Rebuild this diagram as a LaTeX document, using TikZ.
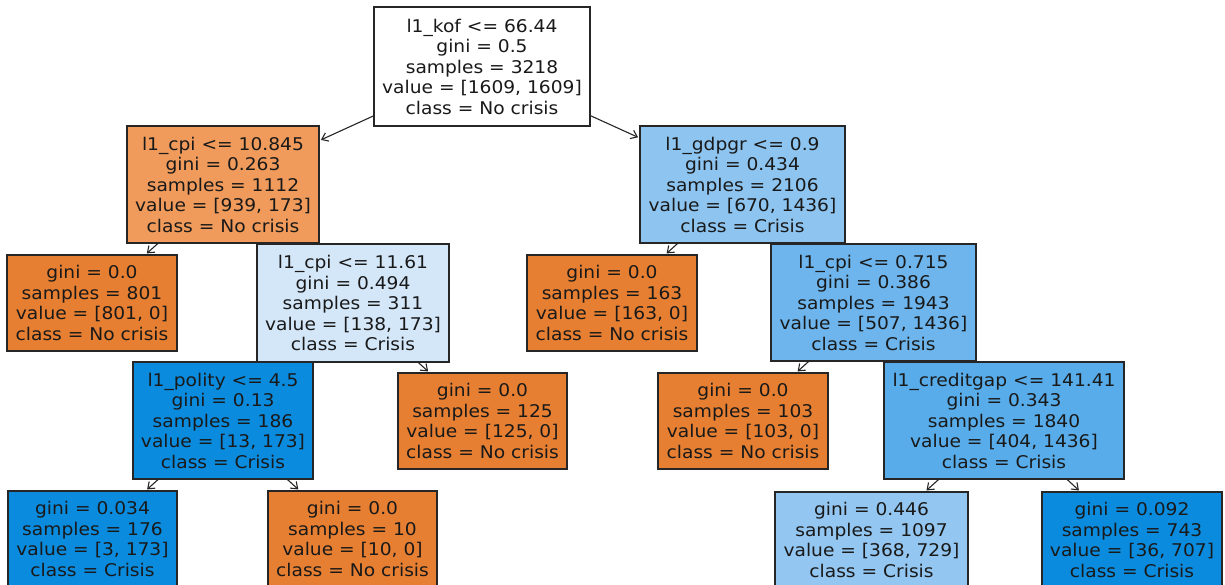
\documentclass[tikz,border=0pt]{standalone}
\usepackage{fontspec}
\setmainfont{DejaVu Sans}[FakeStretch=1.065]
\usetikzlibrary{arrows.meta}

% node fill colours (class proportion shading)
\definecolor{cOrange}{HTML}{E67F32}
\definecolor{cOrangeL}{HTML}{F09B5B}
\definecolor{cBlueD}{HTML}{0A8BDE}
\definecolor{cBlueN6}{HTML}{57ACE9}
\definecolor{cBlueN5}{HTML}{6DB5EC}
\definecolor{cBlueN2}{HTML}{8DC4F0}
\definecolor{cBlueL7}{HTML}{93C6F0}
\definecolor{cBlueN3}{HTML}{D4E7F9}

\tikzset{
  treenode/.style={draw=black!85, line width=1.1pt, inner sep=0pt, align=center,
    font=\fontsize{17.5}{20.5}\selectfont, text=black!90},
  edge/.style={draw=black!85, line width=1.1pt, shorten >=1.5pt,
    -{Straight Barb[length=6pt,width=9pt,line width=1.1pt]}},
  joint/.style={draw=black!85, line width=0.9pt}
}

\begin{document}
\begin{tikzpicture}[x=1pt,y=-1pt]
\useasboundingbox (0,0) rectangle (1225,585);

% internal split nodes
\node[treenode, fill=white, minimum width=216pt, minimum height=119pt] (root) at (482,66.5)
  {l1\_kof <= 66.44\\gini = 0.5\\samples = 3218\\value = [1609, 1609]\\class = No crisis};
\node[treenode, fill=cOrangeL, minimum width=192pt, minimum height=117pt] (n1) at (223,184.5)
  {l1\_cpi <= 10.845\\gini = 0.263\\samples = 1112\\value = [939, 173]\\class = No crisis};
\node[treenode, fill=cBlueN2, minimum width=205pt, minimum height=117pt] (n2) at (742.5,184.5)
  {l1\_gdpgr <= 0.9\\gini = 0.434\\samples = 2106\\value = [670, 1436]\\class = Crisis};
\node[treenode, fill=cBlueN3, minimum width=192pt, minimum height=118pt] (n3) at (353,303)
  {l1\_cpi <= 11.61\\gini = 0.494\\samples = 311\\value = [138, 173]\\class = Crisis};
\node[treenode, fill=cBlueN5, minimum width=205pt, minimum height=117pt] (n5) at (873.5,302.5)
  {l1\_cpi <= 0.715\\gini = 0.386\\samples = 1943\\value = [507, 1436]\\class = Crisis};
\node[treenode, fill=cBlueD, minimum width=180pt, minimum height=117pt] (n4) at (223,420.5)
  {l1\_polity <= 4.5\\gini = 0.13\\samples = 186\\value = [13, 173]\\class = Crisis};
\node[treenode, fill=cBlueN6, minimum width=240pt, minimum height=117pt] (n6) at (1004,420.5)
  {l1\_creditgap <= 141.41\\gini = 0.343\\samples = 1840\\value = [404, 1436]\\class = Crisis};

% leaves
\node[treenode, fill=cOrange, minimum width=170pt, minimum height=96pt] (l1) at (92,303)
  {gini = 0.0\\samples = 801\\value = [801, 0]\\class = No crisis};
\node[treenode, fill=cOrange, minimum width=170pt, minimum height=96pt] (l2) at (612,303)
  {gini = 0.0\\samples = 163\\value = [163, 0]\\class = No crisis};
\node[treenode, fill=cOrange, minimum width=169pt, minimum height=96pt] (l4) at (482.5,421)
  {gini = 0.0\\samples = 125\\value = [125, 0]\\class = No crisis};
\node[treenode, fill=cOrange, minimum width=170pt, minimum height=96pt] (l3) at (743,421)
  {gini = 0.0\\samples = 103\\value = [103, 0]\\class = No crisis};
\node[treenode, fill=cBlueD, minimum width=169pt, minimum height=96pt] (l5) at (92.5,539)
  {gini = 0.034\\samples = 176\\value = [3, 173]\\class = Crisis};
\node[treenode, fill=cOrange, minimum width=169pt, minimum height=96pt] (l6) at (352.5,539)
  {gini = 0.0\\samples = 10\\value = [10, 0]\\class = No crisis};
\node[treenode, fill=cBlueL7, minimum width=193pt, minimum height=96pt] (l7) at (871.5,540)
  {gini = 0.446\\samples = 1097\\value = [368, 729]\\class = Crisis};
\node[treenode, fill=cBlueD, minimum width=180pt, minimum height=96pt] (l8) at (1132,540)
  {gini = 0.092\\samples = 743\\value = [36, 707]\\class = Crisis};

% connectors
\draw[edge] (root) -- (n1);
\draw[edge] (root) -- (n2);
\draw[edge] (n1) -- (l1);
\draw[joint] (n1) -- (n3);
\draw[edge] (n2) -- (l2);
\draw[joint] (n2) -- (n5);
\draw[joint] (n3) -- (n4);
\draw[edge] (n3) -- (l4);
\draw[edge] (n5) -- (l3);
\draw[joint] (n5) -- (n6);
\draw[edge] (n4) -- (l5);
\draw[edge] (n4) -- (l6);
\draw[edge] (n6) -- (l7);
\draw[edge] (n6) -- (l8);
\end{tikzpicture}
\end{document}
